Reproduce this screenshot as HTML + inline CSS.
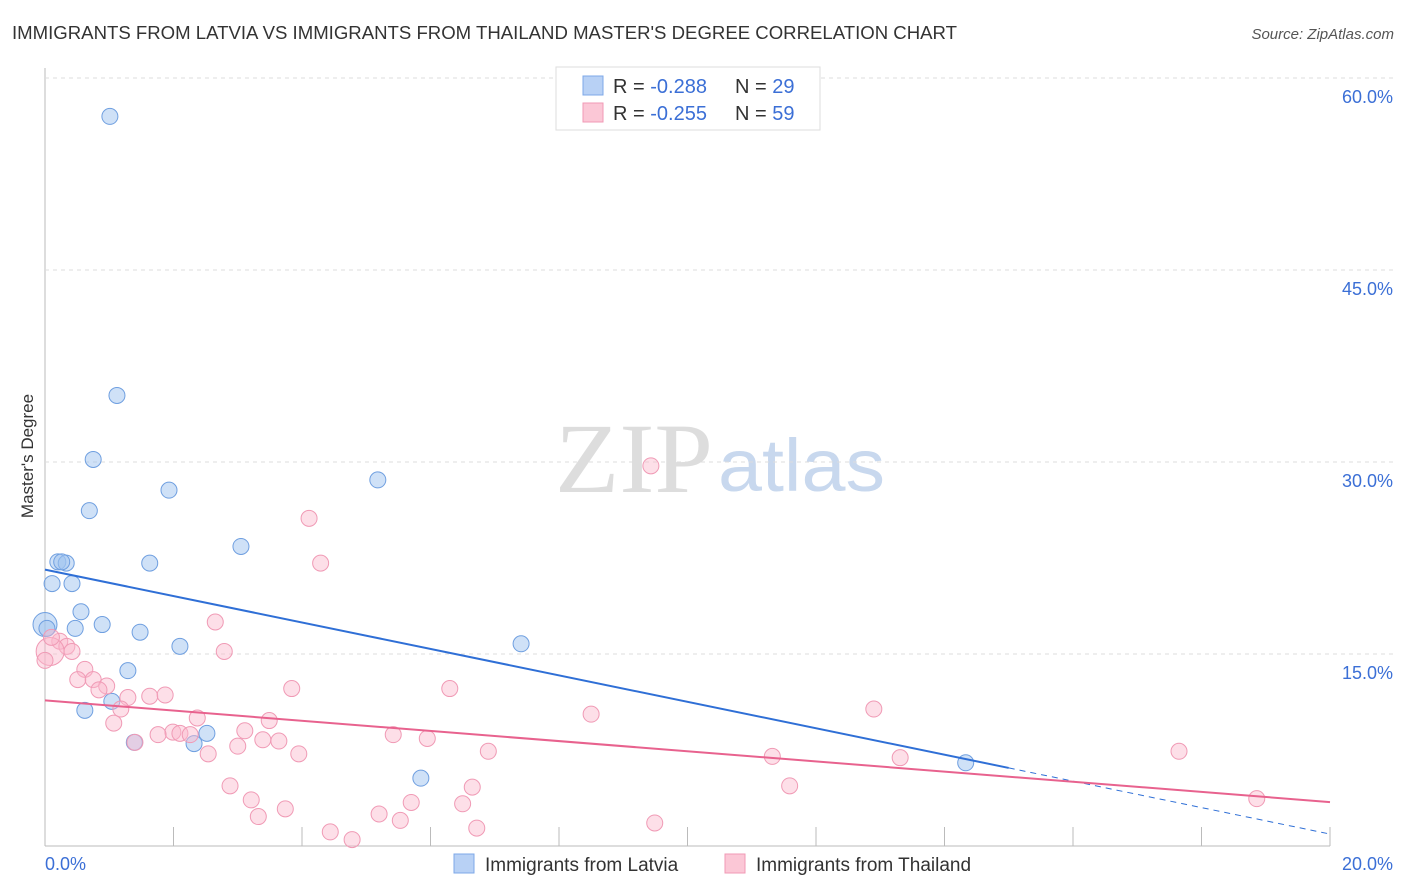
<!DOCTYPE html>
<html><head><meta charset="utf-8"><style>
body{margin:0;background:#fff;font-family:"Liberation Sans",sans-serif;}
svg{display:block}
</style></head><body>
<svg id="c" width="1406" height="892">
<text x="12" y="39" font-size="18" fill="#333" textLength="945" lengthAdjust="spacingAndGlyphs">IMMIGRANTS FROM LATVIA VS IMMIGRANTS FROM THAILAND MASTER'S DEGREE CORRELATION CHART</text>
<text x="1394" y="39" font-size="15" fill="#555" font-style="italic" text-anchor="end">Source: ZipAtlas.com</text>
<text transform="translate(33,456) rotate(-90)" font-size="17" fill="#333" text-anchor="middle">Master's Degree</text>
<text x="555" y="492" font-size="100" fill="#ddd" font-family="Liberation Serif,serif" textLength="158" lengthAdjust="spacingAndGlyphs">ZIP</text>
<text x="718" y="491" font-size="74" fill="#c8d8ee" textLength="167" lengthAdjust="spacingAndGlyphs">atlas</text>
<g id="grid"></g><g id="pts"></g><g id="lines"></g>
<g>
<rect x="556" y="67" width="264" height="63" fill="#fff" stroke="#ddd"/>
<rect x="583" y="76" width="20" height="19" fill="#b8d1f5" stroke="#7ea8e8"/>
<rect x="583" y="103" width="20" height="19" fill="#fbc7d6" stroke="#f09ab5"/>
<text x="613" y="93" font-size="20" fill="#333">R = <tspan fill="#3b6fd6">-0.288</tspan><tspan x="735">N = </tspan><tspan fill="#3b6fd6">29</tspan></text>
<text x="613" y="120" font-size="20" fill="#333">R = <tspan fill="#3b6fd6">-0.255</tspan><tspan x="735">N = </tspan><tspan fill="#3b6fd6">59</tspan></text>
</g>
<g>
<rect x="454" y="854" width="20" height="19" fill="#b8d1f5" stroke="#7ea8e8"/>
<text x="485" y="871" font-size="19" fill="#333">Immigrants from Latvia</text>
<rect x="725" y="854" width="20" height="19" fill="#fbc7d6" stroke="#f09ab5"/>
<text x="756" y="871" font-size="19" fill="#333">Immigrants from Thailand</text>
</g>
</svg>
<script>
const yTicks=[15,30,45,60];
const xTickLabels=["0.0%","20.0%"];
const latviaX=[1.01,1.12,0.75,1.93,0.69,5.18,3.05,1.63,0.2,0.33,0.11,0.42,0.56,0.89,0.47,0.0,1.48,2.1,7.41,1.29,1.04,0.62,2.52,2.32,1.39,5.85,14.33,0.26,0.03];
const latviaY=[57.0,35.2,30.2,27.8,26.2,28.6,23.4,22.1,22.2,22.1,20.5,20.5,18.3,17.3,17.0,17.3,16.7,15.6,15.8,13.7,11.3,10.6,8.8,8.0,8.1,5.3,6.5,22.2,17.0];
const thaiX=[9.43,4.11,4.29,2.65,2.79,0.23,0.34,0.42,0.08,0.62,0.51,0.75,0.96,0.84,1.29,1.63,1.87,3.84,6.3,8.5,12.9,2.37,3.49,1.07,1.18,3.11,1.99,1.76,2.1,2.26,3.39,3.64,3.0,2.54,3.95,5.95,5.42,6.9,11.32,13.31,17.65,1.4,2.88,3.21,3.32,3.74,5.7,6.65,6.5,5.2,5.53,4.44,4.78,6.72,9.49,11.59,18.86,0.0,0.1];
const thaiY=[29.7,25.6,22.1,17.5,15.2,16.0,15.6,15.2,15.2,13.8,13.0,13.0,12.5,12.2,11.6,11.7,11.8,12.3,12.3,10.3,10.7,10.0,9.8,9.6,10.7,9.0,8.9,8.7,8.8,8.7,8.3,8.2,7.8,7.2,7.2,8.4,8.7,7.4,7.0,6.9,7.4,8.1,4.7,3.6,2.3,2.9,3.4,4.6,3.3,2.5,2.0,1.1,0.5,1.4,1.8,4.7,3.7,14.5,16.3];
const X=v=>45+v/20*1285, Y=v=>846-v/15*192;
const NS="http://www.w3.org/2000/svg";
function mk(t,a,p){const e=document.createElementNS(NS,t);for(const k in a)e.setAttribute(k,a[k]);p.appendChild(e);return e;}
const g=document.getElementById('grid');
mk('line',{x1:45,y1:68,x2:45,y2:846,stroke:'#bbb'},g);
mk('line',{x1:45,y1:846,x2:1330,y2:846,stroke:'#bbb'},g);
for(let i=0;i<=10;i++){const t=mk('line',{x1:X(i*2),y1:827,x2:X(i*2),y2:846,stroke:'#bbb'},g);}
yTicks.forEach(v=>{const l=mk('line',{x1:45,y1:Y(v),x2:1394,y2:Y(v),stroke:'#ddd','stroke-dasharray':'4,4'},g);

const t=mk('text',{x:1393,y:Y(v)+25,'font-size':18,fill:'#3b6fd6','text-anchor':'end'},g);t.textContent=v.toFixed(1)+'%';
});
const xl0=mk('text',{x:45,y:870,'font-size':18,fill:'#3b6fd6'},g);xl0.textContent=xTickLabels[0];

const xl1=mk('text',{x:1393,y:870,'font-size':18,fill:'#3b6fd6','text-anchor':'end'},g);xl1.textContent=xTickLabels[1];

const p=document.getElementById('pts');
latviaX.forEach((x,i)=>{const r=(i==15)?12:8;const c=mk('circle',{cx:X(x),cy:Y(latviaY[i]),r:r,fill:'rgba(160,195,240,0.5)',stroke:'#6f9fe0'},p);
});
thaiX.forEach((x,i)=>{const r=(i==8)?14:8;const c=mk('circle',{cx:X(x),cy:Y(thaiY[i]),r:r,fill:'rgba(250,185,205,0.45)',stroke:'#f09ab5'},p);
});
function fit(xs,ys){const n=xs.length;let mx=0,my=0;xs.forEach((v,i)=>{mx+=v;my+=ys[i];});mx/=n;my/=n;let sxy=0,sxx=0;xs.forEach((v,i)=>{sxy+=(v-mx)*(ys[i]-my);sxx+=(v-mx)*(v-mx);});const b=sxy/sxx;return [my-b*mx,b];}
const L=document.getElementById('lines');
const [a1,b1]=fit(latviaX,latviaY),[a2,b2]=fit(thaiX,thaiY);
const l1=mk('line',{x1:X(0),y1:Y(a1),x2:X(15),y2:Y(a1+b1*15),stroke:'#2f6fd6','stroke-width':2},L);

const l1d=mk('line',{x1:X(15),y1:Y(a1+b1*15),x2:X(20),y2:Y(a1+b1*20),stroke:'#2f6fd6','stroke-width':1,'stroke-dasharray':'6,5'},L);

const l2=mk('line',{x1:X(0),y1:Y(a2),x2:X(20),y2:Y(a2+b2*20),stroke:'#e8628e','stroke-width':2},L);

</script>
</body></html>
